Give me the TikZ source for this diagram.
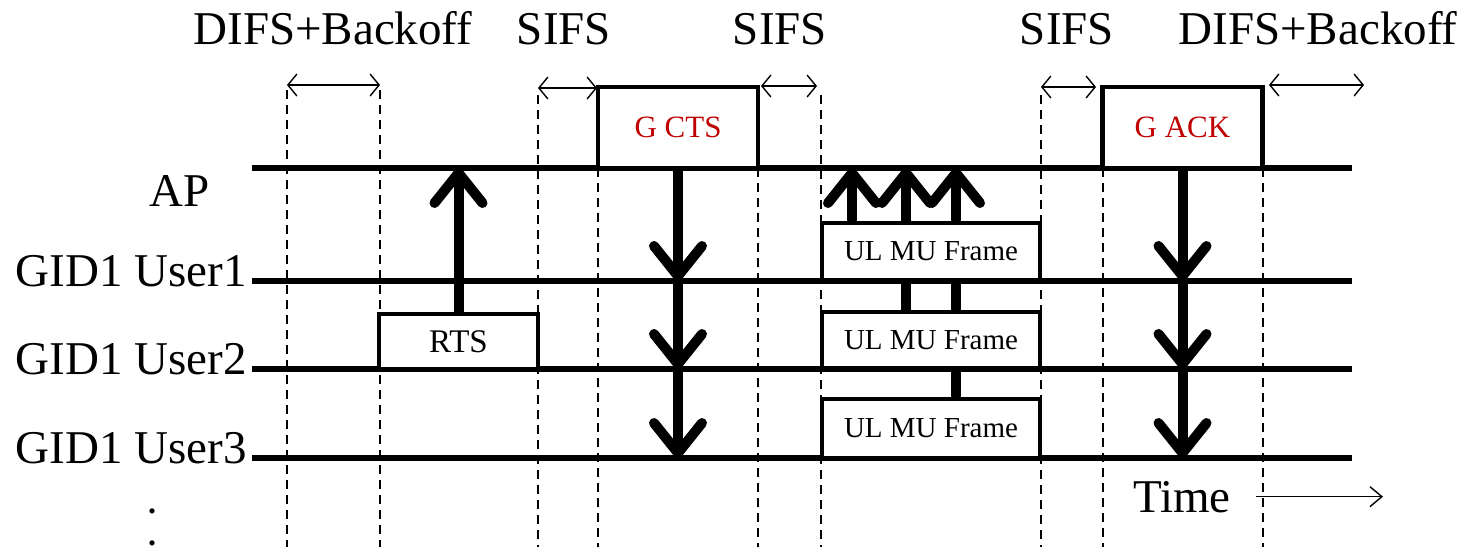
\documentclass[tikz,border=0pt]{standalone}
\usepackage{fontspec}
\setmainfont{Liberation Serif}
\usetikzlibrary{arrows.meta,backgrounds}
\definecolor{ctrl}{RGB}{192,0,0}

\begin{document}
\begin{tikzpicture}[x=1pt, y=-1pt,
   lbl/.style={font=\fontsize{47}{50}\selectfont, inner sep=0pt},
   tline/.style={line width=6pt},
   guide/.style={line width=1.6pt, dash pattern=on 9pt off 6pt},
   spanarr/.style={line width=1.4pt, {Straight Barb[length=9pt,width=22pt]}-{Straight Barb[length=9pt,width=22pt]}},
   tx/.style={line width=10pt, -{Straight Barb[length=30pt,width=48pt,round]}},
   pktbox/.style={draw, line width=4.5pt, fill=white, inner sep=0pt, font=\fontsize{29}{30}\selectfont},
   ctrlbox/.style={pktbox, minimum width=160pt, minimum height=81pt, text=ctrl, font=\fontsize{31}{32}\selectfont},
   ulbox/.style={pktbox, minimum width=218pt, minimum height=57pt}]
  \useasboundingbox (0,0) rectangle (1470,547);

  % interval labels
  \node[lbl, anchor=base] (difs1) at (333,44) {DIFS+Backoff};
  \node[lbl, anchor=base] (sifs1) at (564,44) {SIFS};
  \node[lbl, anchor=base] (sifs2) at (780,44) {SIFS};
  \node[lbl, anchor=base] (sifs3) at (1067,44) {SIFS};
  \node[lbl, anchor=base] (difs2) at (1318,44) {DIFS+Backoff};

  % stations
  \node[lbl, anchor=base] (ap) at (180,206) {AP};
  \node[lbl, anchor=base east] (user1) at (247,286) {GID1 User1};
  \node[lbl, anchor=base east] (user2) at (247,374) {GID1 User2};
  \node[lbl, anchor=base east] (user3) at (247,463) {GID1 User3};
  \node[inner sep=0pt, align=center, anchor=south, font=\fontsize{32}{32}\selectfont\bfseries] (more) at (152,546) {.\\.};
  \foreach \n/\y in {ap/168,u1/281,u2/369,u3/458} {
    \coordinate (\n-l) at (252,\y);
    \coordinate (\n-r) at (1352,\y);
  }

  % frames
  \node[ctrlbox] (cts) at (678,127.5) {G CTS};
  \node[ctrlbox] (ack) at (1182.5,127.5) {G ACK};
  \node[pktbox, minimum width=159pt, minimum height=55pt, font=\fontsize{33}{34}\selectfont] (rts) at (458.5,341.5) {RTS};
  \node[ulbox] (ul1) at (931,251.5) {UL MU Frame};
  \node[ulbox, minimum height=56pt] (ul2) at (931,340) {UL MU Frame};
  \node[ulbox, minimum height=59pt] (ul3) at (931,428.5) {UL MU Frame};

  \node[lbl, anchor=base] (time) at (1182,512) {Time};
  \coordinate (tend) at (1383,500);
  \draw[line width=1.4pt, -{Straight Barb[length=12pt,width=20pt]}] ([xshift=25pt]time.east) -- (tend |- time.east);

  % SIFS / DIFS spans
  \foreach \a/\b/\y [count=\i] in {287/380/85, 538/597/88, 761/817/86, 1041/1096/87, 1269/1364/85}
    \draw[spanarr] (\a,\y) coordinate (s\i a) -- (\b,\y) coordinate (s\i b);

  \begin{scope}[on background layer]
    \foreach \x/\t in {287/90,380/90,538/95,598/168,758/168,821/95,1041/95,1103/168,1263/168}
      \draw[guide] (\x,\t) -- (\x,547);
    \foreach \n in {ap,u1,u2,u3}
      \draw[tline] (\n-l) -- (\n-r);

    % RTS up, CTS/ACK down
    \draw[tx] (rts.north) -- (rts.north |- ap-l);
    \draw[tx] ([yshift=5pt]cts.south) -- (cts.south |- u1-l);
    \draw[tx] (cts.south |- u1-l) -- (cts.south |- u2-l);
    \draw[tx] (cts.south |- u2-l) -- (cts.south |- u3-l);
    \draw[tx] ([yshift=5pt]ack.south) -- (ack.south |- u1-l);
    \draw[tx] (ack.south |- u1-l) -- (ack.south |- u2-l);
    \draw[tx] (ack.south |- u2-l) -- (ack.south |- u3-l);

    % uplink MU frames
    \coordinate (m1) at (852,283);
    \coordinate (m2) at (906,369);
    \coordinate (m3) at (956,458);
    \foreach \m in {m1,m2,m3}
      \draw[tx] (\m) -- (\m |- ap-l);
  \end{scope}
\end{tikzpicture}
\end{document}
